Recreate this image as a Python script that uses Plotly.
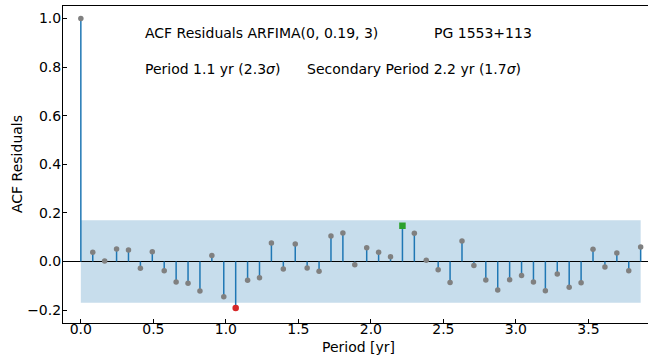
import plotly.graph_objects as go

# ---- data ----
lag_step = 30 / 365.25  # yr per lag
acf = [1.0, 0.038, 0.002, 0.051, 0.047, -0.028, 0.040, -0.038, -0.084, -0.089,
       -0.121, 0.025, -0.145, -0.191, -0.077, -0.067, 0.076, -0.031, 0.072, -0.027,
       -0.040, 0.105, 0.117, -0.013, 0.057, 0.038, 0.020, 0.147, 0.116, 0.005,
       -0.034, -0.086, 0.084, -0.016, -0.076, -0.117, -0.075, -0.058, -0.084, -0.120,
       -0.051, -0.106, -0.087, 0.050, -0.023, 0.035, -0.038, 0.060]
periods = [k * lag_step for k in range(len(acf))]
ci = 0.17
primary_idx = 13
secondary_idx = 27
xticks = [0.0, 0.5, 1.0, 1.5, 2.0, 2.5, 3.0, 3.5]
yticks = [-0.2, 0.0, 0.2, 0.4, 0.6, 0.8, 1.0]

FONT = "DejaVu Sans"

fig = go.Figure()

# stems
sx, sy = [], []
for p, v in zip(periods, acf):
    sx += [p, p, None]
    sy += [0, v, None]
fig.add_trace(go.Scatter(x=sx, y=sy, mode="lines",
                         line=dict(color="#1f77b4", width=1.5),
                         hoverinfo="skip", showlegend=False))

# gray markers
gx = [p for i, p in enumerate(periods) if i not in (primary_idx, secondary_idx)]
gy = [v for i, v in enumerate(acf) if i not in (primary_idx, secondary_idx)]
fig.add_trace(go.Scatter(x=gx, y=gy, mode="markers",
                         marker=dict(color="#808080", size=5.5, line=dict(width=0)),
                         showlegend=False))
fig.add_trace(go.Scatter(x=[periods[primary_idx]], y=[acf[primary_idx]], mode="markers",
                         marker=dict(color="#d62728", size=6.5, line=dict(width=0)),
                         showlegend=False))
fig.add_trace(go.Scatter(x=[periods[secondary_idx]], y=[acf[secondary_idx]], mode="markers",
                         marker=dict(color="#2ca02c", size=6.5, symbol="square", line=dict(width=0)),
                         showlegend=False))

# confidence band
fig.add_shape(type="rect", xref="x", yref="y", x0=periods[0], x1=periods[-1],
              y0=-ci, y1=ci, fillcolor="rgba(31,119,180,0.25)", line=dict(width=0),
              layer="below")

tfont = dict(family=FONT, size=14, color="black")
fig.add_annotation(x=0.431, y=0.94, xref="x", yref="y", xanchor="left", yanchor="middle",
                   text="ACF Residuals ARFIMA(0, 0.19, 3)", showarrow=False, font=tfont)
fig.add_annotation(x=2.42, y=0.94, xref="x", yref="y", xanchor="left", yanchor="middle",
                   text="PG 1553+113", showarrow=False, font=tfont)
fig.add_annotation(x=0.431, y=0.79, xref="x", yref="y", xanchor="left", yanchor="middle",
                   text="Period 1.1 yr (2.3<i>σ</i>)", showarrow=False, font=tfont)
fig.add_annotation(x=1.546, y=0.79, xref="x", yref="y", xanchor="left", yanchor="middle",
                   text="Secondary Period 2.2 yr (1.7<i>σ</i>)", showarrow=False, font=tfont)

# axis titles
fig.add_annotation(x=(358 - 63) / 585, y=(323 - 347) / 317, xref="paper", yref="paper",
                   xanchor="center", yanchor="middle", text="Period [yr]",
                   showarrow=False, font=tfont)
fig.add_annotation(x=(17 - 63) / 585, y=(323 - 164) / 317, xref="paper", yref="paper",
                   xanchor="center", yanchor="middle", text="ACF Residuals", textangle=-90,
                   showarrow=False, font=tfont)

fig.update_layout(
    width=648, height=359,
    margin=dict(l=63, r=0, t=6, b=36),
    paper_bgcolor="white", plot_bgcolor="white",
    font=tfont,
    xaxis=dict(range=[-0.123, 3.911], tickvals=xticks, tickformat=".1f",
               ticks="inside", ticklen=3.5, tickwidth=1.1, tickcolor="black",
               showline=True, linecolor="black", linewidth=1.1, mirror=True,
               showgrid=False, zeroline=False, tickfont=tfont, ticklabelstandoff=-7),
    yaxis=dict(range=[-0.253, 1.051], tickvals=yticks, tickformat=".1f",
               ticks="inside", ticklen=3.5, tickwidth=1.1, tickcolor="black",
               showline=True, linecolor="black", linewidth=1.1,
               showgrid=False, zeroline=True, zerolinecolor="black", zerolinewidth=1.3,
               tickfont=tfont, ticklabelstandoff=-2),
)

fig.write_html("out.html")
